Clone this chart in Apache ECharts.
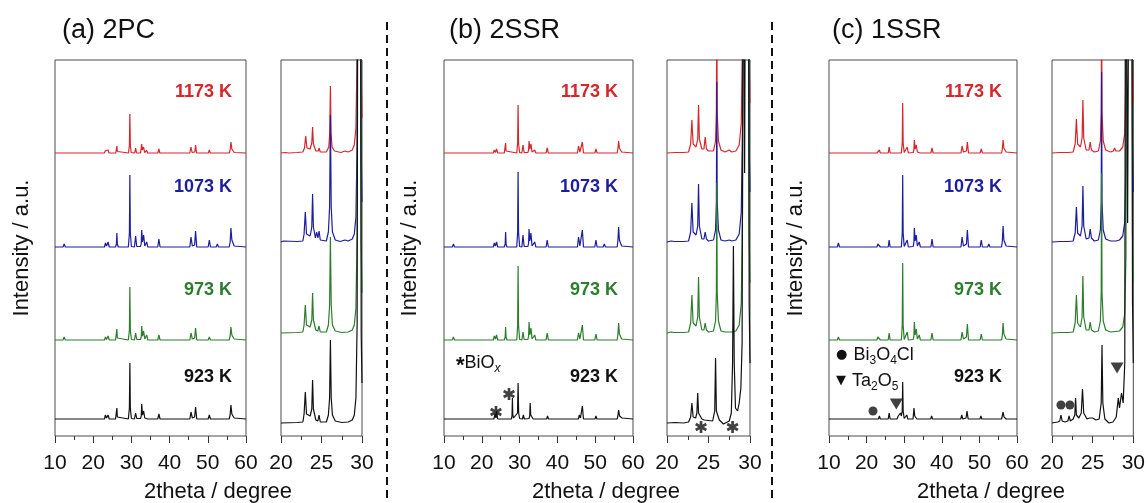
<!DOCTYPE html>
<html>
<head>
<meta charset="utf-8">
<script src="https://cdn.jsdelivr.net/npm/echarts@6/dist/echarts.min.js"></script>
<style>
  html, body { margin: 0; padding: 0; background: #fff; }
  #chart { width: 1148px; height: 503px; }
</style>
</head>
<body>
<div id="chart"></div>
<script>
// ---- data: [2theta (deg), intensity (a.u.)] ----
// (a) 2PC, full range 10-60
const pcRed = [[10,0],[12.15,0],[12.4,1.5],[12.65,0],[18.55,0],[18.8,1],[19.05,0],[22.95,0],[23.2,2.5],[23.45,0.5],[23.9,3],[24.15,0],[25.9,0],[26.08,1.5],[26.2,7],[26.32,1.5],[26.5,0],[29.25,0],[29.48,8],[29.6,39],[29.72,8],[29.95,0.5],[30.85,0],[31.1,5],[31.35,0],[32.4,0],[32.58,2],[32.7,9],[32.85,3],[33.2,6],[33.45,0.5],[34.0,2.5],[34.25,0],[36.95,0],[37.2,4],[37.45,0],[45.3,0],[45.6,6],[45.9,0.5],[46.6,1],[46.8,8],[47.05,0],[50.15,0],[50.4,3],[50.65,0],[52.25,0],[52.5,2],[52.75,0],[55.6,0],[55.85,3],[56.05,11],[56.3,4],[56.6,6],[56.9,0.5],[57.3,0],[60,0]];
const pcBlue = [[10,0],[12.1,0],[12.4,3],[12.7,0],[18.55,0],[18.8,1],[19.05,0],[22.95,0],[23.2,4],[23.5,1],[23.9,5],[24.2,0],[25.85,0],[26.08,3],[26.2,14],[26.32,3],[26.55,0],[29.2,0],[29.48,14],[29.6,72],[29.72,14],[30,0.5],[30.8,0],[31.1,11],[31.4,0.5],[32.4,0.5],[32.58,4],[32.7,17],[32.9,5],[33.2,12],[33.5,1],[34.0,5],[34.3,0],[36.9,0],[37.2,8],[37.5,0],[45.3,0],[45.6,10],[45.95,1],[46.55,2],[46.8,16],[47.1,0],[50.1,0],[50.4,7],[50.7,0],[52.2,0],[52.5,3],[52.8,0],[55.6,0],[55.85,5],[56.05,19],[56.3,7],[56.6,8],[56.9,1],[57.3,0],[60,0]];
const pcGreen = [[10,0],[12.1,0],[12.4,3],[12.7,0],[18.55,0],[18.8,1],[19.05,0],[22.95,0],[23.2,3],[23.5,0.5],[23.9,4],[24.2,0],[25.85,0],[26.08,2],[26.2,11],[26.32,2],[26.55,0],[29.2,0],[29.48,10],[29.6,53],[29.72,10],[30,0.5],[30.8,0],[31.1,7],[31.4,0.5],[32.4,0.5],[32.58,3],[32.7,14],[32.9,4],[33.2,9],[33.5,1],[34.0,5],[34.3,0],[36.9,0],[37.2,5],[37.5,0],[45.3,0],[45.6,7],[45.95,1],[46.55,2],[46.8,12],[47.1,0],[50.1,0],[50.4,3],[50.7,0],[52.2,0],[52.5,2],[52.8,0],[55.6,0],[55.85,4],[56.05,13],[56.3,5],[56.6,6],[56.9,1],[57.3,0],[60,0]];
const pcBlack = [[10,0],[12.1,0],[12.4,2],[12.7,0],[18.55,0],[18.8,1],[19.05,0],[22.95,0],[23.2,4],[23.5,1],[23.9,4],[24.2,0],[25.85,0],[26.08,2],[26.2,11],[26.32,2],[26.55,0],[29.2,0],[29.48,11],[29.6,56],[29.72,11],[30,0.5],[30.8,0],[31.1,6],[31.4,0.5],[32.4,0.5],[32.58,3],[32.7,15],[32.9,4],[33.2,8],[33.5,1],[34.0,3],[34.3,0],[36.9,0],[37.2,5],[37.5,0],[45.3,0],[45.6,7],[45.95,1],[46.55,2],[46.8,12],[47.1,0],[50.1,0],[50.4,4],[50.7,0],[52.2,0],[52.5,2],[52.8,0],[55.6,0],[55.85,4],[56.05,14],[56.3,5],[56.6,7],[56.9,1],[57.3,0],[60,0]];
// (a) 2PC, zoom 20-30
const pcZRed = [[20,0],[20.5,0.5],[21,0],[22,0.5],[22.7,1],[22.9,5],[23.05,17],[23.2,5],[23.6,4],[23.8,10],[23.9,26],[24.0,9],[24.3,2],[24.6,2],[24.7,5],[24.85,1],[25.6,1],[25.9,6],[26.02,20],[26.1,67],[26.18,20],[26.3,6],[26.6,2],[27.4,0.5],[27.9,2],[28.3,1],[28.8,3],[29.05,8],[29.25,25],[29.4,100],[29.5,600],[29.8,600],[29.9,80],[30,35]];
const pcZBlue = [[20,0],[20.3,1],[20.5,0],[22,0.5],[22.7,1],[22.85,8],[23.0,30],[23.15,8],[23.6,6],[23.8,15],[23.9,48],[24.0,15],[24.25,4],[24.4,10],[24.55,4],[24.7,11],[24.85,2],[25.6,1],[25.85,10],[26.0,35],[26.1,127],[26.2,35],[26.35,10],[26.7,2],[27.3,0.5],[27.9,2],[28.3,1],[28.8,3],[29.05,8],[29.25,25],[29.4,100],[29.5,600],[29.8,600],[29.9,90],[30,40]];
const pcZGreen = [[20,0],[22,0.5],[22.7,1],[22.85,8],[23.0,28],[23.15,8],[23.6,6],[23.8,13],[23.9,40],[24.0,13],[24.3,3],[24.55,2],[24.7,7],[24.85,1],[25.6,1],[25.85,8],[26.0,28],[26.1,96],[26.2,28],[26.35,8],[26.7,2],[27.5,0.5],[28.3,1],[28.8,3],[29.05,8],[29.25,25],[29.4,100],[29.5,600],[29.8,600],[29.9,90],[30,40]];
const pcZBlack = [[20,0],[22,0.5],[22.7,1],[22.85,9],[23.0,31],[23.15,9],[23.6,7],[23.8,14],[23.9,43],[24.0,14],[24.3,3],[24.55,2],[24.7,8],[24.85,1],[25.6,1],[25.85,8],[26.0,25],[26.1,83],[26.2,25],[26.35,8],[26.7,2],[27.5,0.5],[28.3,1],[28.8,3],[29.05,8],[29.25,25],[29.4,100],[29.5,600],[29.8,600],[29.9,90],[30,40]];
// (b) 2SSR, full range
const ssr2Red = [[10,0],[12.2,0],[12.5,2],[12.8,0],[18.35,0],[18.6,1],[18.85,0],[23.05,0],[23.3,3],[23.6,0.5],[23.9,4],[24.2,0],[25.95,0],[26.18,2],[26.3,10],[26.42,2],[26.65,0],[29.25,0],[29.48,10],[29.6,48],[29.72,10],[30,0.5],[30.6,0],[30.9,8],[31.2,0.5],[32.2,0.5],[32.38,3],[32.5,12],[32.7,4],[33.0,9],[33.3,1],[34.0,3],[34.3,0],[37.0,0],[37.3,5],[37.6,0],[41.1,0],[41.3,1],[41.5,0],[45.3,0],[45.6,7],[45.95,1],[46.4,2],[46.6,11],[46.9,0],[49.9,0],[50.2,4],[50.5,0],[52.1,0],[52.4,2],[52.7,0],[55.8,0],[56.0,4],[56.2,12],[56.4,5],[56.7,6],[57.0,1],[57.4,0],[60,0]];
const ssr2Blue = [[10,0],[12.2,0],[12.5,3],[12.8,0],[18.35,0],[18.6,1],[18.85,0],[23.05,0],[23.3,4],[23.6,1],[23.9,5],[24.2,0],[25.95,0],[26.18,3],[26.3,15],[26.42,3],[26.65,0],[29.25,0],[29.48,15],[29.6,75],[29.72,15],[30,0.5],[30.6,0],[30.9,12],[31.2,0.5],[32.2,0.5],[32.38,4],[32.5,18],[32.7,6],[33.0,14],[33.3,1],[34.0,5],[34.3,0],[37.0,0],[37.3,7],[37.6,0],[41.1,0],[41.3,1],[41.5,0],[45.3,0],[45.6,10],[45.95,1],[46.4,3],[46.6,17],[46.9,0],[49.9,0],[50.2,7],[50.5,0],[52.1,0],[52.4,3],[52.7,0],[55.8,0],[56.0,6],[56.2,20],[56.4,7],[56.7,8],[57.0,1],[57.4,0],[60,0]];
const ssr2Green = [[10,0],[12.2,0],[12.5,3],[12.8,0],[18.35,0],[18.6,1],[18.85,0],[23.05,0],[23.3,4],[23.6,1],[23.9,5],[24.2,0],[25.95,0],[26.18,3],[26.3,13],[26.42,3],[26.65,0],[29.25,0],[29.48,15],[29.6,74],[29.72,15],[30,0.5],[30.6,0],[30.9,8],[31.2,0.5],[32.2,0.5],[32.38,4],[32.5,18],[32.7,5],[33.0,12],[33.3,1],[34.0,5],[34.3,0],[37.0,0],[37.3,7],[37.6,0],[41.1,0],[41.3,1],[41.5,0],[45.3,0],[45.6,7],[45.95,1],[46.4,3],[46.6,15],[46.9,0],[49.9,0],[50.2,6],[50.5,0],[52.1,0],[52.4,2],[52.7,0],[55.8,0],[56.0,5],[56.2,17],[56.4,6],[56.7,7],[57.0,1],[57.4,0],[60,0]];
const ssr2Black = [[10,0],[11.0,0],[11.2,1],[11.4,0],[12.3,0],[12.5,1],[12.7,0],[23.2,0],[23.5,5],[23.7,2],[23.9,8],[24.2,0],[26.1,0],[26.3,2],[26.5,0],[27.85,0],[28.0,4],[28.1,21],[28.2,4],[28.4,1],[29.45,6],[29.6,36],[29.75,6],[30,0.5],[30.75,0],[31.0,4],[31.25,0],[32.5,0.5],[32.68,3],[32.8,16],[32.95,4],[33.3,5],[33.6,0],[37.15,0],[37.4,3],[37.65,0],[45.55,0],[45.8,4],[46.1,1],[46.4,2],[46.6,13],[46.9,0],[49.95,0],[50.2,3],[50.45,0],[52.15,0],[52.4,1],[52.65,0],[55.8,0],[56.0,3],[56.2,9],[56.45,3],[56.8,5],[57.1,1],[57.5,0],[60,0]];
// (b) 2SSR, zoom 20-30
const ssr2ZRed = [[20,0],[21,0.5],[22,0.5],[22.6,1],[22.85,9],[23.0,33],[23.15,9],[23.5,6],[23.7,14],[23.8,48],[23.9,14],[24.2,4],[24.45,4],[24.6,16],[24.75,4],[25.0,2],[25.6,2],[25.85,12],[25.95,40],[26.0,150],[26.05,40],[26.2,12],[26.5,3],[27.0,1],[27.5,3],[27.8,1],[28.3,2],[28.7,8],[28.95,30],[29.1,120],[29.2,600],[29.8,600],[29.9,100],[30,50]];
const ssr2ZBlue = [[20,0],[20.5,1],[20.7,2],[20.9,0.5],[22,0.5],[22.6,1],[22.85,10],[23.0,39],[23.15,10],[23.5,7],[23.7,16],[23.8,58],[23.9,16],[24.2,3],[24.45,3],[24.6,10],[24.75,3],[25.0,1],[25.6,2],[25.85,12],[25.95,40],[26.0,160],[26.05,40],[26.2,12],[26.5,2],[27.0,1],[27.5,2],[27.8,1],[28.3,2],[28.7,8],[28.95,30],[29.1,120],[29.2,600],[29.8,600],[29.9,100],[30,50]];
const ssr2ZGreen = [[20,0],[20.5,1],[20.6,2],[20.8,0.5],[22,0.5],[22.6,1],[22.85,10],[23.0,38],[23.15,10],[23.5,7],[23.7,16],[23.8,56],[23.9,16],[24.2,3],[24.45,3],[24.6,10],[24.75,3],[25.0,1],[25.6,2],[25.85,12],[25.95,40],[26.0,150],[26.05,40],[26.2,12],[26.5,2],[27.0,1],[27.8,1],[28.3,2],[28.7,8],[28.95,30],[29.1,120],[29.2,600],[29.8,600],[29.9,100],[30,50]];
const ssr2ZBlack = [[20,0],[21,0.5],[22,0],[22.6,1],[22.85,6],[23.0,20],[23.15,6],[23.45,5],[23.6,10],[23.7,30],[23.8,10],[24.0,12],[24.2,4],[24.5,3],[25.5,2],[25.75,12],[25.85,65],[25.95,12],[26.3,3],[26.8,-1],[27.5,2],[27.75,10],[27.9,60],[28.0,177],[28.1,60],[28.25,15],[28.5,12],[28.7,20],[28.9,35],[29.05,80],[29.2,600],[29.35,250],[29.5,600],[29.8,600],[29.9,120],[30,60]];
// (c) 1SSR, full range
const ssr1Red = [[10,0],[12.2,0],[12.5,2],[12.8,0],[17.95,0],[18.2,1],[18.45,0],[22.75,0],[23.0,2],[23.2,1],[23.4,3],[23.65,0],[25.75,0],[26.0,6],[26.25,0],[29.25,0],[29.48,10],[29.6,50],[29.72,10],[30,0.5],[30.5,0],[30.8,6],[31.1,0],[32.4,0.5],[32.58,3],[32.7,13],[32.9,4],[33.2,8],[33.5,1],[34.0,3],[34.3,0],[37.1,0],[37.4,5],[37.7,0],[45.1,0],[45.4,7],[45.75,1],[46.55,2],[46.8,11],[47.1,0],[50.2,0],[50.5,4],[50.8,0],[52.2,0],[52.5,2],[52.8,0],[55.9,0],[56.1,4],[56.3,13],[56.5,5],[56.8,6],[57.1,1],[57.5,0],[60,0]];
const ssr1Blue = [[10,0],[12.2,0],[12.5,4],[12.8,0],[17.95,0],[18.2,1],[18.45,0],[22.75,0],[23.0,3],[23.2,1],[23.4,4],[23.65,0],[25.75,0],[26.0,7],[26.25,0],[29.25,0],[29.48,14],[29.6,72],[29.72,14],[30,0.5],[30.5,0],[30.8,7],[31.1,0],[32.4,0.5],[32.58,5],[32.7,19],[32.9,6],[33.2,12],[33.5,1],[34.0,5],[34.3,0],[37.1,0],[37.4,8],[37.7,0],[45.1,0],[45.4,10],[45.75,1],[46.55,3],[46.8,17],[47.1,0],[50.2,0],[50.5,7],[50.8,0],[52.2,0],[52.5,3],[52.8,0],[55.9,0],[56.1,6],[56.3,21],[56.5,7],[56.8,8],[57.1,1],[57.5,0],[60,0]];
const ssr1Green = [[10,0],[12.2,0],[12.5,3],[12.8,0],[17.95,0],[18.2,1],[18.45,0],[22.75,0],[23.0,3],[23.2,1],[23.4,4],[23.65,0],[25.75,0],[26.0,7],[26.25,0],[29.25,0],[29.48,15],[29.6,77],[29.72,15],[30,0.5],[30.5,0],[30.8,8],[31.1,0],[32.4,0.5],[32.58,4],[32.7,18],[32.9,5],[33.2,11],[33.5,1],[34.0,5],[34.3,0],[37.1,0],[37.4,7],[37.7,0],[45.1,0],[45.4,8],[45.75,1],[46.55,3],[46.8,16],[47.1,0],[50.2,0],[50.5,6],[50.8,0],[52.2,0],[52.5,2],[52.8,0],[55.9,0],[56.1,5],[56.3,17],[56.5,6],[56.8,7],[57.1,1],[57.5,0],[60,0]];
const ssr1Black = [[10,0],[12.3,0],[12.5,1],[12.7,0],[21.2,0],[21.4,2],[21.6,0],[22.0,0],[22.2,1.5],[22.4,0],[23.15,0],[23.4,3],[23.65,0],[25.75,0],[26.0,6],[26.25,0],[28.1,0],[28.4,3],[28.7,1],[29.0,6],[29.25,3],[29.48,8],[29.6,37],[29.72,8],[30,0.5],[30.45,0],[30.7,4],[30.95,0],[32.35,0],[32.5,2],[32.6,11],[32.8,3],[33.1,4],[33.4,0],[37.05,0],[37.3,3],[37.55,0],[45.05,0],[45.3,4],[45.6,0],[46.45,1],[46.7,8],[47.0,0],[50.15,0],[50.4,3],[50.65,0],[55.9,0],[56.1,2],[56.3,7],[56.55,2],[56.8,4],[57.1,0],[60,0]];
// (c) 1SSR, zoom 20-30
const ssr1ZRed = [[20,0],[21,0.5],[22,0.5],[22.6,1],[22.85,9],[23.0,34],[23.15,9],[23.5,6],[23.7,15],[23.8,53],[23.9,15],[24.2,3],[24.55,3],[24.7,11],[24.85,3],[25.2,1],[25.7,2],[25.95,12],[26.05,40],[26.1,150],[26.15,40],[26.3,12],[26.6,3],[27.2,1],[27.55,2],[27.7,5],[27.85,2],[28.3,2],[28.7,6],[28.95,20],[29.1,80],[29.2,600],[29.35,300],[29.5,600],[29.8,600],[29.9,100],[30,50]];
const ssr1ZBlue = [[20,0],[21,0.5],[22,0.5],[22.6,1],[22.85,9],[23.0,35],[23.15,9],[23.5,6],[23.7,16],[23.8,56],[23.9,16],[24.2,3],[24.55,4],[24.7,13],[24.85,4],[25.2,1],[25.7,2],[25.95,12],[26.05,40],[26.1,170],[26.15,40],[26.3,12],[26.6,3],[27.2,1],[27.55,1],[27.7,3],[27.85,1],[28.3,2],[28.7,6],[28.95,20],[29.1,80],[29.2,600],[29.35,300],[29.5,600],[29.8,600],[29.9,100],[30,50]];
const ssr1ZGreen = [[20,0],[21,0.5],[22,0.5],[22.6,1],[22.85,10],[23.0,38],[23.15,10],[23.5,6],[23.7,16],[23.8,57],[23.9,16],[24.2,3],[24.55,3],[24.7,11],[24.85,3],[25.2,1],[25.7,2],[25.95,12],[26.05,40],[26.1,160],[26.15,40],[26.3,12],[26.6,3],[27.2,1],[28.3,2],[28.7,6],[28.95,20],[29.1,80],[29.2,600],[29.35,300],[29.5,600],[29.8,600],[29.9,100],[30,50]];
const ssr1ZBlack = [[20,0],[20.7,1],[20.95,2],[21.1,8],[21.25,2],[21.6,1],[21.95,2],[22.1,7],[22.25,2],[22.6,4],[22.8,8],[22.9,25],[23.0,8],[23.3,5],[23.6,10],[23.75,34],[23.9,10],[24.3,4],[24.6,5],[24.8,7],[25.0,5],[25.2,5],[25.4,3],[25.8,4],[26.05,20],[26.15,78],[26.25,20],[26.5,4],[27.0,0],[27.5,1],[27.9,6],[28.15,25],[28.3,15],[28.55,30],[28.75,20],[28.95,60],[29.05,600],[29.3,200],[29.5,600],[29.8,600],[29.9,120],[30,60]];

// impurity marks [2theta, height]
const bStarMain = [[23.75, 24], [27.2, 42]];
const bStarZoom = [[24.1, 9], [27.9, 9]];
const cCircleMain = [[21.7, 25]];
const cTriMain = [[27.9, 32]];
const cCircleZoom = [[21.1, 31], [22.2, 31]];
const cTriZoom = [[28.0, 68]];

const temps = ['1173 K', '1073 K', '973 K', '923 K'];
const mainTicks = { min: 10, max: 60, interval: 10 };
const zoomTicks = { min: 20, max: 30, interval: 5 };

// ---- layout / style ----
const FONT = 'Liberation Sans, Arial, sans-serif';
const colors = ['#d6262b', '#1d1d9e', '#2c7d2c', '#111111'];   // red, blue, green, black
const mainOff = [283, 189, 96, 17];
const zoomOff = [283, 194, 103, 13];

const grids = [
  { left: 55, top: 60, width: 191, height: 376 },
  { left: 281, top: 60, width: 81, height: 376 },
  { left: 444, top: 60, width: 189, height: 376 },
  { left: 667, top: 60, width: 83, height: 376 },
  { left: 829, top: 60, width: 188, height: 376 },
  { left: 1052, top: 60, width: 82, height: 376 }
].map(g => Object.assign(g, { show: true, borderColor: '#4a4a4a', borderWidth: 1, containLabel: false }));

const panels = [
  [pcRed, pcBlue, pcGreen, pcBlack],
  [pcZRed, pcZBlue, pcZGreen, pcZBlack],
  [ssr2Red, ssr2Blue, ssr2Green, ssr2Black],
  [ssr2ZRed, ssr2ZBlue, ssr2ZGreen, ssr2ZBlack],
  [ssr1Red, ssr1Blue, ssr1Green, ssr1Black],
  [ssr1ZRed, ssr1ZBlue, ssr1ZGreen, ssr1ZBlack]
];

const xAxes = grids.map((g, i) => {
  const t = i % 2 ? zoomTicks : mainTicks;
  return {
    gridIndex: i, type: 'value', min: t.min, max: t.max, interval: t.interval,
    axisLine: { show: false },
    axisTick: { show: true, length: 7, lineStyle: { color: '#333', width: 1 } },
    minorTick: { show: true, splitNumber: 2, length: 4, lineStyle: { color: '#333', width: 1 } },
    splitLine: { show: false },
    axisLabel: { fontSize: 21, color: '#111', margin: 17, fontFamily: FONT, showMinLabel: true, showMaxLabel: true }
  };
});
const yAxes = grids.map((g, i) => ({ gridIndex: i, type: 'value', min: 0, max: 376, show: false }));

const series = [];
panels.forEach((traces, g) => {
  const off = g % 2 ? zoomOff : mainOff;
  traces.forEach((d, k) => {
    series.push({
      type: 'line', xAxisIndex: g, yAxisIndex: g,
      data: d.map(p => [p[0], p[1] + off[k]]),
      symbol: 'none', showSymbol: false, clip: true, silent: true,
      lineStyle: { width: 1.2, color: colors[k] }, z: 2 + k
    });
  });
});

const STAR = 'path://M-1.1,-5L1.1,-5L1.1,5L-1.1,5Z M3.78,-3.45L4.88,-1.55L-3.78,3.45L-4.88,1.55Z M-4.88,-1.55L-3.78,-3.45L4.88,1.55L3.78,3.45Z';
function marks(g, data, symbol, size, rotate) {
  series.push({
    type: 'scatter', xAxisIndex: g, yAxisIndex: g, silent: true, z: 10,
    data: data.map(p => [p[0], p[1]]),
    symbol: symbol, symbolSize: size, symbolRotate: rotate || 0,
    itemStyle: { color: '#111' }
  });
}
marks(2, bStarMain, STAR, 12);
marks(3, bStarZoom, STAR, 12);
marks(4, cCircleMain, 'circle', 9);
marks(4, cTriMain, 'triangle', [13, 11], 180);
marks(5, cCircleZoom, 'circle', 9);
marks(5, cTriZoom, 'triangle', [13, 11], 180);

// ---- text ----
const graphic = [];
function txt(x, y, text, o) {
  graphic.push(Object.assign({
    type: 'text', x: x, y: y, silent: true, z: 20,
    style: Object.assign({ text: text, fill: '#111', font: '22px ' + FONT, textAlign: 'left', textVerticalAlign: 'middle', verticalAlign: 'middle' }, o && o.style)
  }, o && o.el));
}
txt(62, 31, '(a) 2PC', { style: { font: '27px ' + FONT } });
txt(449, 31, '(b) 2SSR', { style: { font: '27px ' + FONT } });
txt(832, 31, '(c) 1SSR', { style: { font: '27px ' + FONT } });

const labelY = [92, 187, 290, 377];
[232, 618, 1002].forEach(x => {
  temps.forEach((t, k) => txt(x, labelY[k], t, { style: { font: 'bold 18px ' + FONT, fill: colors[k], textAlign: 'right' } }));
});
[218, 606, 991].forEach(x => txt(x, 492, '2theta / degree', { style: { textAlign: 'center' } }));
[22, 410, 796].forEach(x => txt(0, 0, 'Intensity / a.u.', { el: { x: x, y: 248, rotation: Math.PI / 2 }, style: { textAlign: 'center' } }));

const sub = { fontSize: 12, fontFamily: FONT, fill: '#111', verticalAlign: 'bottom', lineHeight: 24 };
const nrm = { fontSize: 18, fontFamily: FONT, fill: '#111', lineHeight: 24 };
const bul = { fontSize: 13, fontFamily: 'DejaVu Sans', fill: '#111', lineHeight: 24 };
txt(456, 363, '{a|*}{n|BiO}{i|x}', { style: { rich: { a: { fontSize: 22, fontWeight: 'bold', fontFamily: FONT, fill: '#111', lineHeight: 24, padding: [6, 0, 0, 0] }, n: nrm, i: Object.assign({}, sub, { fontStyle: 'italic' }) } } });
txt(836, 355, '{b|●} {n|Bi}{s|3}{n|O}{s|4}{n|Cl}', { style: { rich: { n: nrm, s: sub, b: bul } } });
txt(836, 381, '{b|▼} {n|Ta}{s|2}{n|O}{s|5}', { style: { rich: { n: nrm, s: sub, b: bul } } });

// dashed separators
[387, 772].forEach(x => graphic.push({
  type: 'line', silent: true, z: 20,
  shape: { x1: x, y1: 22, x2: x, y2: 503 },
  style: { stroke: '#111', lineWidth: 2, lineDash: [8, 5] }
}));

const chart = echarts.init(document.getElementById('chart'), null, { renderer: 'canvas' });
chart.setOption({
  animation: false,
  backgroundColor: '#fff',
  grid: grids,
  xAxis: xAxes,
  yAxis: yAxes,
  series: series,
  graphic: graphic
});
</script>
</body>
</html>
